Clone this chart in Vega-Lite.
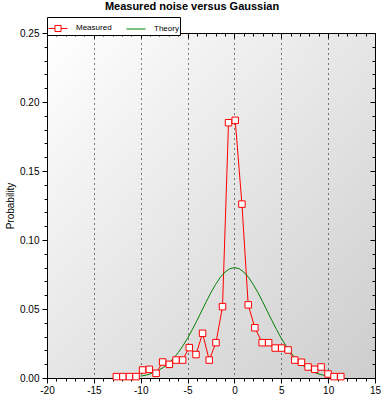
{
  "$schema": "https://vega.github.io/schema/vega-lite/v6.json",
  "width": 328,
  "height": 345,
  "autosize": "none",
  "padding": {"left": 47, "top": 33, "right": 10, "bottom": 23},
  "background": "white",
  "title": {
    "text": "Measured noise versus Gaussian",
    "font": "Liberation Sans",
    "fontSize": 11,
    "fontWeight": "bold",
    "color": "black",
    "anchor": "middle",
    "frame": "group",
    "dx": -19,
    "dy": 11,
    "baseline": "bottom",
    "offset": 5
  },
  "data": {
    "values": [
      {"x": -12.6, "p": 0.001, "series": "Measured"},
      {"x": -11.9, "p": 0.001, "series": "Measured"},
      {"x": -11.2, "p": 0.001, "series": "Measured"},
      {"x": -10.5, "p": 0.001, "series": "Measured"},
      {"x": -9.8, "p": 0.0058, "series": "Measured"},
      {"x": -9.08, "p": 0.0063, "series": "Measured"},
      {"x": -8.36, "p": 0.0034, "series": "Measured"},
      {"x": -7.66, "p": 0.0116, "series": "Measured"},
      {"x": -6.95, "p": 0.0099, "series": "Measured"},
      {"x": -6.23, "p": 0.013, "series": "Measured"},
      {"x": -5.53, "p": 0.013, "series": "Measured"},
      {"x": -4.82, "p": 0.022, "series": "Measured"},
      {"x": -4.1, "p": 0.017, "series": "Measured"},
      {"x": -3.4, "p": 0.0324, "series": "Measured"},
      {"x": -2.69, "p": 0.013, "series": "Measured"},
      {"x": -1.97, "p": 0.0256, "series": "Measured"},
      {"x": -1.27, "p": 0.0517, "series": "Measured"},
      {"x": -0.63, "p": 0.185, "series": "Measured"},
      {"x": 0.085, "p": 0.1867, "series": "Measured"},
      {"x": 0.8, "p": 0.126, "series": "Measured"},
      {"x": 1.47, "p": 0.053, "series": "Measured"},
      {"x": 2.18, "p": 0.0364, "series": "Measured"},
      {"x": 2.96, "p": 0.0256, "series": "Measured"},
      {"x": 3.65, "p": 0.0256, "series": "Measured"},
      {"x": 4.35, "p": 0.0217, "series": "Measured"},
      {"x": 5.04, "p": 0.0217, "series": "Measured"},
      {"x": 5.73, "p": 0.0203, "series": "Measured"},
      {"x": 6.44, "p": 0.013, "series": "Measured"},
      {"x": 7.15, "p": 0.0114, "series": "Measured"},
      {"x": 7.86, "p": 0.008, "series": "Measured"},
      {"x": 8.58, "p": 0.0063, "series": "Measured"},
      {"x": 9.25, "p": 0.008, "series": "Measured"},
      {"x": 9.99, "p": 0.0029, "series": "Measured"},
      {"x": 10.63, "p": 0.001, "series": "Measured"},
      {"x": 11.35, "p": 0.001, "series": "Measured"},
      {"x": -10, "p": 0.00135, "series": "Theory"},
      {"x": -9.5, "p": 0.002, "series": "Theory"},
      {"x": -9, "p": 0.0029, "series": "Theory"},
      {"x": -8.5, "p": 0.0042, "series": "Theory"},
      {"x": -8, "p": 0.0059, "series": "Theory"},
      {"x": -7.5, "p": 0.0081, "series": "Theory"},
      {"x": -7, "p": 0.0108, "series": "Theory"},
      {"x": -6.5, "p": 0.0143, "series": "Theory"},
      {"x": -6, "p": 0.0184, "series": "Theory"},
      {"x": -5.5, "p": 0.0233, "series": "Theory"},
      {"x": -5, "p": 0.0288, "series": "Theory"},
      {"x": -4.5, "p": 0.035, "series": "Theory"},
      {"x": -4, "p": 0.0416, "series": "Theory"},
      {"x": -3.5, "p": 0.0485, "series": "Theory"},
      {"x": -3, "p": 0.0554, "series": "Theory"},
      {"x": -2.5, "p": 0.062, "series": "Theory"},
      {"x": -2, "p": 0.0679, "series": "Theory"},
      {"x": -1.5, "p": 0.073, "series": "Theory"},
      {"x": -1, "p": 0.0768, "series": "Theory"},
      {"x": -0.5, "p": 0.0792, "series": "Theory"},
      {"x": 0, "p": 0.08, "series": "Theory"},
      {"x": 0.5, "p": 0.0792, "series": "Theory"},
      {"x": 1, "p": 0.0768, "series": "Theory"},
      {"x": 1.5, "p": 0.073, "series": "Theory"},
      {"x": 2, "p": 0.0679, "series": "Theory"},
      {"x": 2.5, "p": 0.062, "series": "Theory"},
      {"x": 3, "p": 0.0554, "series": "Theory"},
      {"x": 3.5, "p": 0.0485, "series": "Theory"},
      {"x": 4, "p": 0.0416, "series": "Theory"},
      {"x": 4.5, "p": 0.035, "series": "Theory"},
      {"x": 5, "p": 0.0288, "series": "Theory"},
      {"x": 5.5, "p": 0.0233, "series": "Theory"},
      {"x": 6, "p": 0.0184, "series": "Theory"},
      {"x": 6.5, "p": 0.0143, "series": "Theory"},
      {"x": 7, "p": 0.0108, "series": "Theory"},
      {"x": 7.5, "p": 0.0081, "series": "Theory"},
      {"x": 8, "p": 0.0059, "series": "Theory"},
      {"x": 8.5, "p": 0.0042, "series": "Theory"},
      {"x": 9, "p": 0.0029, "series": "Theory"},
      {"x": 9.5, "p": 0.002, "series": "Theory"},
      {"x": 10, "p": 0.00135, "series": "Theory"},
      {"x": 10.5, "p": 0.0009, "series": "Theory"}
    ]
  },
  "layer": [
    {
      "mark": {"type": "line", "strokeWidth": 1},
      "encoding": {
        "x": {
          "field": "x", "type": "quantitative",
          "scale": {"domain": [-20, 15], "nice": false, "zero": false},
          "axis": {
            "orient": "bottom",
            "title": null,
            "values": [-20,-19,-18,-17,-16,-15,-14,-13,-12,-11,-10,-9,-8,-7,-6,-5,-4,-3,-2,-1,0,1,2,3,4,5,6,7,8,9,10,11,12,13,14,15],
            "labelExpr": "datum.value % 5 === 0 ? '' + datum.value : ''",
            "labelFont": "Liberation Sans",
            "labelFontSize": 10,
            "labelColor": "black",
            "labelPadding": 2,
            "labelFlush": false,
            "labelOverlap": false,
            "tickColor": "black",
            "tickSize": {"condition": {"test": "datum.value % 5 === 0", "value": 5}, "value": 3},
            "domainColor": "black",
            "grid": true,
            "gridColor": "black",
            "gridDash": [1, 4],
            "gridWidth": 1,
            "gridOpacity": {"condition": {"test": "datum.value % 5 === 0", "value": 1}, "value": 0}
          }
        },
        "y": {
          "field": "p", "type": "quantitative",
          "scale": {"domain": [0, 0.25], "nice": false},
          "axis": {
            "orient": "left",
            "title": "Probability",
            "titleFont": "Liberation Sans",
            "titleFontSize": 10,
            "titleFontWeight": "normal",
            "titleColor": "black",
            "titlePadding": 4,
            "values": [0,0.01,0.02,0.03,0.04,0.05,0.06,0.07,0.08,0.09,0.1,0.11,0.12,0.13,0.14,0.15,0.16,0.17,0.18,0.19,0.2,0.21,0.22,0.23,0.24,0.25],
            "labelExpr": "round(datum.value*100) % 5 === 0 ? format(datum.value, '.2f') : ''",
            "labelFont": "Liberation Sans",
            "labelFontSize": 10,
            "labelColor": "black",
            "labelPadding": 3,
            "labelFlush": false,
            "labelOverlap": false,
            "tickColor": "black",
            "tickSize": {"condition": {"test": "round(datum.value*100) % 5 === 0", "value": 5}, "value": 3},
            "domainColor": "black",
            "grid": false
          }
        },
        "color": {
          "field": "series", "type": "nominal",
          "scale": {"domain": ["Measured", "Theory"], "range": ["#ff0000", "#008000"]},
          "legend": {
            "orient": "none",
            "legendX": 0,
            "legendY": -16,
            "direction": "horizontal",
            "title": null,
            "strokeColor": "black",
            "fillColor": "white",
            "padding": 1,
            "symbolType": "stroke",
            "symbolSize": 361,
            "symbolStrokeWidth": 1,
            "labelFont": "Liberation Sans",
            "labelFontSize": 8,
            "labelColor": "black",
            "labelOffset": 8,
            "columnPadding": 12,
            "rowPadding": 0,
            "encode": {
              "symbols": {
                "update": {
                  "shape": {"signal": "datum.value === 'Measured' ? 'M-1,0L-0.32,0M0.32,0L1,0M-0.32,-0.32L0.32,-0.32L0.32,0.32L-0.32,0.32Z' : 'stroke'"},
                  "fill": {"value": "white"}
                }
              }
            }
          }
        }
      }
    },
    {
      "transform": [{"filter": "datum.series === 'Measured'"}],
      "mark": {"type": "point", "shape": "square", "size": 42, "filled": true, "fill": "white", "stroke": "#ff0000", "strokeWidth": 1, "opacity": 1},
      "encoding": {
        "x": {
          "field": "x", "type": "quantitative",
          "axis": {
            "orient": "top",
            "title": null,
            "labels": false,
            "domain": false,
            "grid": false,
            "values": [-20,-19,-18,-17,-16,-15,-14,-13,-12,-11,-10,-9,-8,-7,-6,-5,-4,-3,-2,-1,0,1,2,3,4,5,6,7,8,9,10,11,12,13,14,15],
            "tickColor": "black",
            "tickSize": {"condition": {"test": "datum.value % 5 === 0", "value": -5}, "value": -3}
          }
        },
        "y": {
          "field": "p", "type": "quantitative",
          "axis": {
            "orient": "right",
            "title": null,
            "labels": false,
            "domain": false,
            "grid": false,
            "values": [0,0.01,0.02,0.03,0.04,0.05,0.06,0.07,0.08,0.09,0.1,0.11,0.12,0.13,0.14,0.15,0.16,0.17,0.18,0.19,0.2,0.21,0.22,0.23,0.24,0.25],
            "tickColor": "black",
            "tickSize": {"condition": {"test": "round(datum.value*100) % 5 === 0", "value": -5}, "value": -3}
          }
        }
      }
    }
  ],
  "resolve": {"axis": {"x": "independent", "y": "independent"}},
  "config": {
    "view": {
      "stroke": "black",
      "strokeWidth": 1,
      "fill": {
        "gradient": "linear",
        "x1": 0, "y1": 0, "x2": 1, "y2": 1,
        "stops": [
          {"offset": 0, "color": "#ffffff"},
          {"offset": 1, "color": "#cdcdcd"}
        ]
      }
    }
  }
}
